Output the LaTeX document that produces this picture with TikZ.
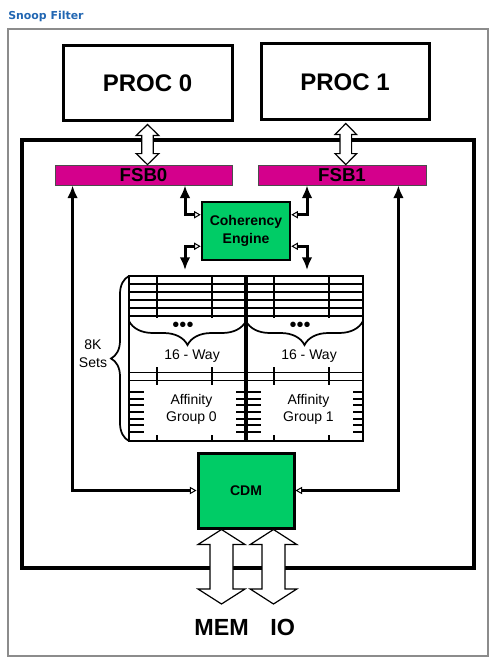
\documentclass[tikz,border=0pt]{standalone}
\usepackage{fontspec}
\setmainfont{Liberation Sans}
\newfontfamily\titlefont{DejaVu Sans}
\usetikzlibrary{arrows.meta,calc,decorations.pathreplacing}
\definecolor{fsbpink}{RGB}{212,0,140}
\definecolor{cegreen}{RGB}{0,204,102}
\definecolor{titleblue}{RGB}{33,102,178}
\newcommand{\dblarrow}[5]{%
	\draw[hollow] (#1) -- ($(#1)+(#4,#5)$) -- ($(#1)+(#3,#5)$) -- ($(#2)+(#3,-#5)$)
		-- ($(#2)+(#4,-#5)$) -- (#2) -- ($(#2)+(-#4,-#5)$) -- ($(#2)+(-#3,-#5)$)
		-- ($(#1)+(-#3,#5)$) -- ($(#1)+(-#4,#5)$) -- cycle;}

\begin{document}
\begin{tikzpicture}[x=0.75pt,y=-0.75pt,
	box/.style={draw,line width=2.25pt,inner sep=0pt},
	fsb/.style={draw=black!70,line width=0.6pt,fill=fsbpink,minimum height=15pt,inner sep=0pt,font=\bfseries\fontsize{14}{14}\selectfont},
	hollow/.style={draw=black,fill=white,line width=0.9pt,line join=miter},
	bus/.style={line width=2.25pt,{Triangle[fill=white,length=5pt,width=5.5pt,line width=0.75pt]}-{Latex[length=9.5pt,width=8pt]}},
	tbl/.style={line width=1.3pt},
	lbl/.style={inner sep=0pt,align=center,font=\fontsize{10.5}{13.2}\selectfont},
	big/.style={inner sep=0pt,font=\bfseries\fontsize{17.5}{18}\selectfont}]
		\useasboundingbox (0,0) rectangle (500,663);
		\node[anchor=base west,inner sep=0pt,text=titleblue,font=\titlefont\bfseries\fontsize{8.2}{10}\selectfont] (title) at (8,20) {Snoop Filter};
		\draw[black!45,line width=1pt] (8,29) rectangle (488,656);
		% processors and the chipset
		\node[box,minimum width=126.75pt,minimum height=56.25pt,font=\bfseries\fontsize{18}{20}\selectfont] (proc0) at (147.5,83.5) {PROC 0};
		\node[box,minimum width=126pt,minimum height=57pt,font=\bfseries\fontsize{18}{20}\selectfont] (proc1) at (345,82) {PROC 1};
		\draw[line width=3pt] (22,140) rectangle (474,568);
		\node[fsb,minimum width=132.75pt] (fsb0) at (143.5,175) {FSB0};
		\node[fsb,minimum width=126pt] (fsb1) at (342,175) {FSB1};
		\node[box,line width=1.9pt,fill=cegreen,minimum width=66pt,minimum height=43.5pt,align=center,font=\bfseries\fontsize{10.5}{13.3}\selectfont] (ce) at (246,231) {Coherency\\Engine};
		\node[box,fill=cegreen,minimum width=72pt,minimum height=56.25pt,font=\bfseries\fontsize{10.5}{12}\selectfont] (cdm) at (246,490.5) {CDM};

		% snoop filter table
		\foreach \o/\n in {129/0,246/1}{
			\foreach \y in {276,284,...,316}
				\draw[tbl] (\o,\y) -- ++(117,0);
			\draw[tbl] (\o+28,276) -- (\o+28,318) (\o+83,276) -- (\o+83,318);
			\draw[tbl] (\o,372.5) -- ++(117,0) (\o,380.5) -- ++(117,0);
			\draw[tbl] (\o+28,367) -- (\o+28,385) (\o+83,367) -- (\o+83,385);
			\draw[tbl] (\o+28,435) -- (\o+28,441) (\o+83,435) -- (\o+83,441);
			\foreach \i in {0,...,6}
				\draw[tbl] (\o,392+6.67*\i) -- ++(15,0) (\o+117,392+6.67*\i) -- ++(-10,0);
			\draw[tbl,decorate,decoration={brace,amplitude=18pt}] (\o+117,321) -- (\o,321);
			\node[inner sep=0pt,font=\fontsize{15}{15}\selectfont] (dots\n) at (\o+54,327) {•••};
			\node[lbl] (way\n) at (\o+63,356) {16 - Way};
			\node[lbl] (aff\n) at (\o+62.5,409.5) {Affinity\\Group \n};
		}
		\draw[tbl] (129,276) rectangle (363,441);
		\draw[line width=2.5pt] (246,276) -- (246,441);
		\draw[tbl,decorate,decoration={brace,amplitude=13.5pt}] (129,441) -- (129,276);
		\node[lbl] (sets) at (93,353.5) {8K\\Sets};

		% control paths
		\coordinate (set0) at (185,270);
		\coordinate (set1) at (307,270);
		\draw[bus] ([yshift=-10.5pt]ce.north west) -| (set0 |- fsb0.south);
		\draw[bus] ([yshift=11.25pt]ce.south west) -| (set0);
		\draw[bus] ([yshift=-10.5pt]ce.north east) -| (set1 |- fsb1.south);
		\draw[bus] ([yshift=11.25pt]ce.south east) -| (set1);
		\draw[bus] (cdm.west) -| ([xshift=13.5pt]fsb0.south west);
		\draw[bus] (cdm.east) -| ([xshift=-21pt]fsb1.south east);

		% data paths
		\coordinate (p0t) at ([yshift=-1.5pt]proc0.south);
		\coordinate (p0b) at (p0t |- fsb0.north);
		\coordinate (p1t) at ([xshift=0.6pt,yshift=-1.5pt]proc1.south);
		\coordinate (p1b) at (p1t |- fsb1.north);
		\coordinate (mem) at (221.5,604);
		\coordinate (memt) at (mem |- cdm.south);
		\coordinate (io) at (273.5,604);
		\coordinate (iot) at (io |- cdm.south);
		\dblarrow{p0t}{p0b}{5.8}{11.3}{11}
		\dblarrow{p1t}{p1b}{5.8}{10.8}{11}
		\dblarrow{memt}{mem}{11.5}{23.5}{15}
		\dblarrow{iot}{io}{11.5}{23.3}{15}
		\node[big] (memlbl) at (221.7,627) {MEM};
		\node[big] (iolbl) at (282.7,627) {IO};
\end{tikzpicture}
\end{document}
